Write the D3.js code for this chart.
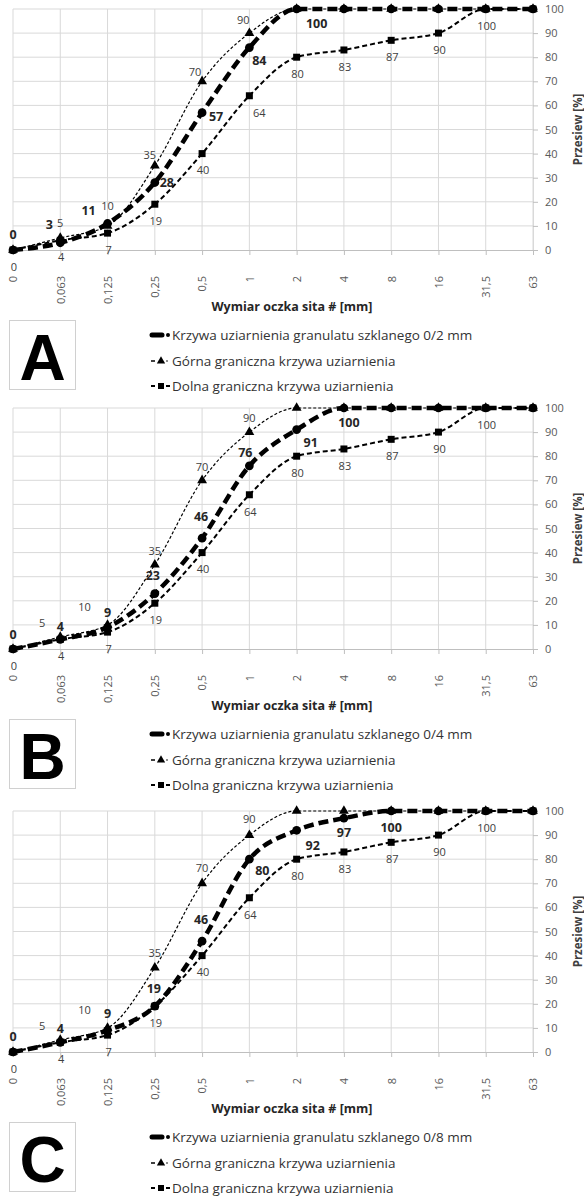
<!DOCTYPE html>
<html>
<head>
<meta charset="utf-8">
<script src="https://cdn.jsdelivr.net/npm/d3@7"></script>
<style>
  body { margin: 0; background: #fff; }
  svg text { font-family: "Open Sans", "Noto Sans", sans-serif; }
</style>
</head>
<body>
<svg id="chart" width="584" height="1198"></svg>
<script>
// sieve sizes (x categories) and y ticks
const sieves = ["0", "0,063", "0,125", "0,25", "0,5", "1", "2", "4", "8", "16", "31,5", "63"];
const yTicks = [0, 10, 20, 30, 40, 50, 60, 70, 80, 90, 100];

// grading limits (same in every panel)
const upperBound = [0, 5, 10, 35, 70, 90, 100, 100, 100, 100, 100, 100];
const lowerBound = [0, 4, 7, 19, 40, 64, 80, 83, 87, 90, 100, 100];

// glass granulate curves
const curveA = [0, 3, 11, 28, 57, 84, 100, 100, 100, 100, 100, 100];
const curveB = [0, 4, 9, 23, 46, 76, 91, 100, 100, 100, 100, 100];
const curveC = [0, 4, 9, 19, 46, 80, 92, 97, 100, 100, 100, 100];

const panelLetters = ["A", "B", "C"];
const curveNames = [
  "Krzywa uziarnienia granulatu szklanego 0/2 mm",
  "Krzywa uziarnienia granulatu szklanego 0/4 mm",
  "Krzywa uziarnienia granulatu szklanego 0/8 mm"
];
const upperName = "Górna graniczna krzywa uziarnienia";
const lowerName = "Dolna graniczna krzywa uziarnienia";
const xTitle = "Wymiar oczka sita # [mm]";
const yTitle = "Przesiew [%]";

// which points carry a value label
const mainLabelCount = [7, 8, 9];
const upperLabelIdx = [1, 2, 3, 4, 5];
const lowerLabelIdx = [0, 1, 2, 3, 4, 5, 6, 7, 8, 9, 10];

// label offsets (layout only)
const mainOffsets = [
  [[0, -15], [-11, -18], [-19, -13], [12, 0], [14, 4], [10, 13], [20, 15]],
  [[0, -14], [0, -13], [0, -15], [-2, -18], [-1, -22], [-4, -13], [14, 13], [5, 15]],
  [[0, -15], [0, -14], [0, -17], [-1, -18], [-1, -22], [13, 11], [16, 15], [0, 14], [0, 17]]
];
const upperOffsets = [
  [[0, 0], [0, -15], [0, -20], [-5, -11], [-7, -9], [-6, -13]],
  [[0, 0], [-18, -14], [-23, -18], [0, -14], [0, -13], [0, -14]],
  [[0, 0], [-18, -14], [-23, -18], [0, -15], [0, -15], [0, -16]]
];

const panelTops = [9, 408, 811];
const plotH = 241;
const left = 13, right = 533;

const svg = d3.select("#chart");

const x = d3.scalePoint().domain(sieves).range([left, right]);

function drawPanel(p, values) {
  const top = panelTops[p];
  const bottom = top + plotH;
  const y = d3.scaleLinear().domain([0, 100]).range([bottom, top]);
  const g = svg.append("g");

  // grid
  g.selectAll(".hgrid")
    .data(yTicks.slice(1))
    .enter().append("line")
    .attr("x1", left).attr("x2", right)
    .attr("y1", (d) => y(d)).attr("y2", (d) => y(d))
    .style("stroke", "#d9d9d9");

  g.selectAll(".vgrid")
    .data(sieves)
    .enter().append("line")
    .attr("x1", (d) => x(d)).attr("x2", (d) => x(d))
    .attr("y1", top).attr("y2", bottom)
    .style("stroke", "#d9d9d9");

  // bottom axis
  const xAxis = g.append("g")
    .attr("transform", `translate(0,${bottom})`)
    .call(d3.axisBottom(x).tickSize(5).tickSizeOuter(0));
  xAxis.select(".domain").style("stroke", "#bfbfbf");
  xAxis.selectAll(".tick line").style("stroke", "#bfbfbf");
  xAxis.selectAll("text")
    .attr("transform", "rotate(-90)")
    .attr("text-anchor", "end")
    .attr("x", -26)
    .attr("y", 0)
    .attr("dy", "0.35em")
    .style("font-size", "11px")
    .style("fill", "#595959");

  // right axis
  const yAxis = g.append("g")
    .attr("transform", `translate(${right},0)`)
    .call(d3.axisRight(y).tickValues(yTicks).tickSize(5).tickPadding(7).tickSizeOuter(0));
  yAxis.select(".domain").style("stroke", "#d9d9d9");
  yAxis.selectAll(".tick line").style("stroke", "#bfbfbf");
  yAxis.selectAll("text")
    .style("font-size", "11px")
    .style("fill", "#595959");

  g.append("text")
    .attr("transform", `translate(582,${(top + bottom) / 2}) rotate(-90)`)
    .attr("text-anchor", "middle")
    .style("font-size", "11.5px")
    .style("font-weight", "bold")
    .style("fill", "#404040")
    .text(yTitle);

  g.append("text")
    .attr("x", 292)
    .attr("y", bottom + 61)
    .attr("text-anchor", "middle")
    .style("font-size", "12.5px")
    .style("font-weight", "bold")
    .style("fill", "#262626")
    .text(xTitle);

  const line = d3.line()
    .x((d, i) => x(sieves[i]))
    .y((d) => y(d))
    .curve(d3.curveMonotoneX);

  const series = [
    { vals: values, width: 4.5, dash: "10,5", sym: d3.symbolCircle, size: 60 },
    { vals: upperBound, width: 1.2, dash: "3,2", sym: d3.symbolTriangle, size: 42 },
    { vals: lowerBound, width: 2, dash: "5,3", sym: d3.symbolSquare, size: 49 }
  ];

  series.forEach((s) => {
    g.append("path")
      .attr("d", line(s.vals))
      .style("fill", "none")
      .style("stroke", "#000")
      .style("stroke-width", s.width)
      .style("stroke-dasharray", s.dash);

    g.selectAll(null)
      .data(s.vals)
      .enter().append("path")
      .attr("transform", (d, i) => `translate(${x(sieves[i])},${y(d)})`)
      .attr("d", d3.symbol().type(s.sym).size(s.size))
      .style("fill", "#000");
  });

  // value labels
  const mainIdx = d3.range(mainLabelCount[p]);
  g.selectAll(null)
    .data(mainIdx)
    .enter().append("text")
    .attr("x", (i) => x(sieves[i]) + mainOffsets[p][i][0])
    .attr("y", (i) => y(values[i]) + mainOffsets[p][i][1])
    .attr("dy", "0.35em")
    .attr("text-anchor", "middle")
    .style("font-size", "12.5px")
    .style("font-weight", "bold")
    .style("fill", "#262626")
    .text((i) => values[i]);

  g.selectAll(null)
    .data(upperLabelIdx)
    .enter().append("text")
    .attr("x", (i) => x(sieves[i]) + upperOffsets[p][i][0])
    .attr("y", (i) => y(upperBound[i]) + upperOffsets[p][i][1])
    .attr("dy", "0.35em")
    .attr("text-anchor", "middle")
    .style("font-size", "11px")
    .style("fill", "#404040")
    .text((i) => upperBound[i]);

  g.selectAll(null)
    .data(lowerLabelIdx)
    .enter().append("text")
    .attr("x", (i) => x(sieves[i]) + (p === 0 && i === 5 ? 10 : 1))
    .attr("y", (i) => y(lowerBound[i]) + 17)
    .attr("dy", "0.35em")
    .attr("text-anchor", "middle")
    .style("font-size", "11px")
    .style("fill", "#404040")
    .text((i) => lowerBound[i]);

  // panel letter box
  g.append("rect")
    .attr("x", 9.5).attr("y", bottom + 70.5)
    .attr("width", 66).attr("height", 69)
    .style("fill", "#fff")
    .style("stroke", "#d0d0d0");

  g.append("text")
    .attr("x", 42.5)
    .attr("y", bottom + 130)
    .attr("text-anchor", "middle")
    .style("font-family", "'Liberation Sans', Arial, sans-serif")
    .style("font-size", "64px")
    .style("font-weight", "bold")
    .style("fill", "#000")
    .text(panelLetters[p]);

  // legend
  const legendRows = [
    { name: curveNames[p], dy: 85 },
    { name: upperName, dy: 111 },
    { name: lowerName, dy: 136 }
  ];
  const ly = legendRows.map((r) => bottom + r.dy);

  g.append("line")
    .attr("x1", 152).attr("x2", 162)
    .attr("y1", ly[0]).attr("y2", ly[0])
    .style("stroke", "#000").style("stroke-width", 5).style("stroke-linecap", "round");
  g.append("circle").attr("cx", 168).attr("cy", ly[0]).attr("r", 2).style("fill", "#000");

  g.append("line")
    .attr("x1", 151).attr("x2", 155)
    .attr("y1", ly[1]).attr("y2", ly[1])
    .style("stroke", "#000").style("stroke-width", 1.5);
  g.append("path")
    .attr("transform", `translate(161,${ly[1]})`)
    .attr("d", d3.symbol().type(d3.symbolTriangle).size(30))
    .style("fill", "#000");
  g.append("circle").attr("cx", 167).attr("cy", ly[1]).attr("r", 0.8).style("fill", "#000");

  g.append("line")
    .attr("x1", 151).attr("x2", 155)
    .attr("y1", ly[2]).attr("y2", ly[2])
    .style("stroke", "#000").style("stroke-width", 2);
  g.append("path")
    .attr("transform", `translate(161,${ly[2]})`)
    .attr("d", d3.symbol().type(d3.symbolSquare).size(36))
    .style("fill", "#000");
  g.append("line")
    .attr("x1", 166).attr("x2", 170)
    .attr("y1", ly[2]).attr("y2", ly[2])
    .style("stroke", "#000").style("stroke-width", 2);

  g.selectAll(null)
    .data(legendRows)
    .enter().append("text")
    .attr("x", 172)
    .attr("y", (d, i) => ly[i])
    .attr("dy", "0.35em")
    .style("font-size", "13.5px")
    .style("fill", "#333")
    .text((d) => d.name);
}

drawPanel(0, curveA);
drawPanel(1, curveB);
drawPanel(2, curveC);
</script>
</body>
</html>
